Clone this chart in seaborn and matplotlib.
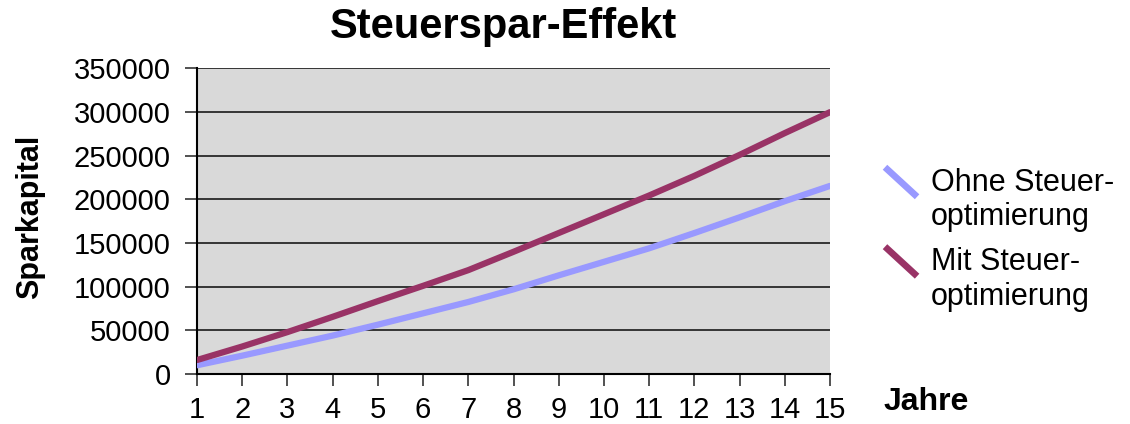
import matplotlib
matplotlib.use("Agg")
import matplotlib.pyplot as plt
import seaborn as sns
import pandas as pd
from matplotlib.lines import Line2D
from matplotlib.legend_handler import HandlerBase

years = list(range(1, 16))
ohne = [10000, 21000, 32500, 44000, 56500, 69500, 82500, 97000, 113000, 128500,
        144000, 161500, 179500, 198000, 215500]
mit = [16000, 31500, 48000, 65500, 83500, 101000, 119000, 140000, 161500, 183000,
       204500, 227000, 251000, 276000, 300000]
series_names = ["Ohne Steuer-\noptimierung", "Mit Steuer-\noptimierung"]
colors = ["#9999FF", "#993366"]
yticks = [0, 50000, 100000, 150000, 200000, 250000, 300000, 350000]

df = pd.DataFrame({
    "Jahre": years * 2,
    "Sparkapital": ohne + mit,
    "Serie": [series_names[0]] * len(years) + [series_names[1]] * len(years),
})

sns.set_theme(style="white")
plt.rcParams["font.family"] = ["Liberation Sans", "DejaVu Sans"]
plt.rcParams["text.color"] = "black"

fig = plt.figure(figsize=(11.3, 4.24), dpi=100)
ax = fig.add_axes([197 / 1130, 50 / 424, 633 / 1130, 305.5 / 424])
ax.set_facecolor("#D9D9D9")

sns.lineplot(data=df, x="Jahre", y="Sparkapital", hue="Serie",
             palette=dict(zip(series_names, colors)), linewidth=4.5,
             ax=ax, legend=False, zorder=3)

ax.set_xlim(1, 15)
ax.set_ylim(0, 350000)
ax.set_xticks(years)
ax.set_yticks(yticks)
ax.set_xticklabels([str(y) for y in years])
ax.set_yticklabels([str(v) for v in yticks])
ax.grid(axis="y", color="#1a1a1a", linewidth=1.2, zorder=1)
ax.set_axisbelow(True)
for s in ["top", "right"]:
    ax.spines[s].set_visible(False)
for s in ["left", "bottom"]:
    ax.spines[s].set_color("black")
    ax.spines[s].set_linewidth(1.5)
ax.tick_params(axis="both", direction="out", length=8.5, width=1.2, color="#333333",
               labelsize=21, labelcolor="black", bottom=True, left=True)
ax.tick_params(axis="y", pad=10.5)
ax.tick_params(axis="x", pad=7)
ax.set_xlabel("")
ax.set_ylabel("")

fig.text(503 / 1130, 1 - 27 / 424, "Steuerspar-Effekt", ha="center", va="center",
         fontsize=30, fontweight="bold", color="black")
fig.text(30 / 1130, 1 - 217 / 424, "Sparkapital", rotation=90, ha="center",
         va="center", fontsize=22, fontweight="bold", color="black")
fig.text(926 / 1130, 1 - 402 / 424, "Jahre", ha="center", va="center",
         fontsize=23, fontweight="bold", color="black")


class DiagHandler(HandlerBase):
    def create_artists(self, legend, orig_handle, xdescent, ydescent, width,
                       height, fontsize, trans):
        x0 = -xdescent
        yc = -ydescent + height / 2 + fontsize * 0.62
        line = Line2D([x0, x0 + width], [yc + width * 0.46, yc - width * 0.46],
                      color=orig_handle.get_color(), linewidth=4.8,
                      solid_capstyle="butt")
        line.set_transform(trans)
        return [line]


handles = [Line2D([], [], color=c) for c in colors]
leg = fig.legend(handles, series_names, loc="upper left",
                 bbox_to_anchor=(885 / 1130, 1 - 168 / 424), frameon=False,
                 fontsize=22, handler_map={Line2D: DiagHandler()},
                 handlelength=1.05, handleheight=0.8, handletextpad=0.45,
                 labelspacing=0.5, borderpad=0, borderaxespad=0)
for t in leg.get_texts():
    t.set_linespacing(1.18)
    t.set_color("black")

fig.savefig("out.png", dpi=100)
